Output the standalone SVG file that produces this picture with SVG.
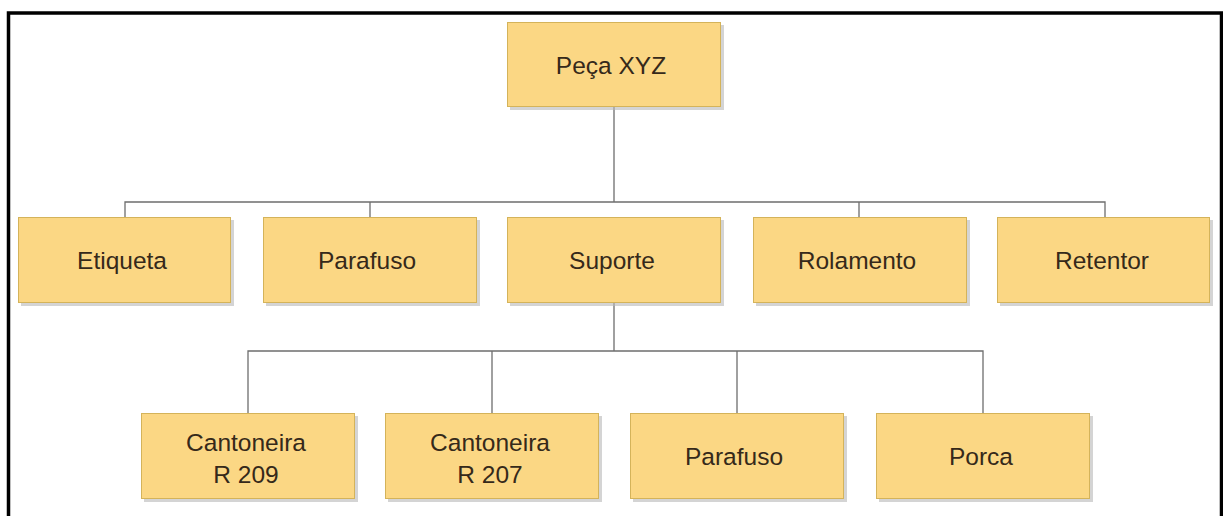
<svg xmlns="http://www.w3.org/2000/svg" width="1223" height="516" viewBox="0 0 1223 516">
<defs>
<style>
.box{fill:#fbd784;stroke:#d4b35a;stroke-width:1}
.sh{fill:#b8b8b8;opacity:0.6}
.t{font-family:"Liberation Sans",Arial,sans-serif;font-size:24.5px;fill:#35291a;text-anchor:middle}
.c{fill:none;stroke:#6e6e6e;stroke-width:1.3}
</style>
</defs>
<rect x="0" y="0" width="1223" height="516" fill="#ffffff"/>
<path d="M8.5 520 V13 H1221.5 V520" fill="none" stroke="#000" stroke-width="3.5"/>
<g id="connectors">
<path class="c" d="M614 107 V202 M125 217 V202 H1105 V217 M370 202 V217 M859 202 V217"/>
<path class="c" d="M614 303 V351 M248 413 V351 H983 V413 M492 351 V413 M737 351 V413"/>
</g>
<g id="n-peca"><rect class="sh" x="510" y="25" width="214" height="85"/><rect class="box" x="507.5" y="22.5" width="213" height="84"/><text class="t" x="611" y="74">Peça XYZ</text></g>
<g id="n-etiqueta"><rect class="sh" x="21" y="220" width="213" height="86"/><rect class="box" x="18.5" y="217.5" width="212" height="85"/><text class="t" x="122" y="269">Etiqueta</text></g>
<g id="n-parafuso1"><rect class="sh" x="266" y="220" width="214" height="86"/><rect class="box" x="263.5" y="217.5" width="213" height="85"/><text class="t" x="367" y="269">Parafuso</text></g>
<g id="n-suporte"><rect class="sh" x="510" y="220" width="214" height="86"/><rect class="box" x="507.5" y="217.5" width="213" height="85"/><text class="t" x="612" y="269">Suporte</text></g>
<g id="n-rolamento"><rect class="sh" x="756" y="220" width="214" height="86"/><rect class="box" x="753.5" y="217.5" width="213" height="85"/><text class="t" x="857" y="269">Rolamento</text></g>
<g id="n-retentor"><rect class="sh" x="1000" y="220" width="213" height="86"/><rect class="box" x="997.5" y="217.5" width="212" height="85"/><text class="t" x="1102" y="269">Retentor</text></g>
<g id="n-cant209"><rect class="sh" x="144" y="416" width="214" height="86"/><rect class="box" x="141.5" y="413.5" width="213" height="85"/><text class="t" x="246" y="451">Cantoneira</text><text class="t" x="246" y="483">R 209</text></g>
<g id="n-cant207"><rect class="sh" x="388" y="416" width="214" height="86"/><rect class="box" x="385.5" y="413.5" width="213" height="85"/><text class="t" x="490" y="451">Cantoneira</text><text class="t" x="490" y="483">R 207</text></g>
<g id="n-parafuso2"><rect class="sh" x="633" y="416" width="214" height="86"/><rect class="box" x="630.5" y="413.5" width="213" height="85"/><text class="t" x="734" y="465">Parafuso</text></g>
<g id="n-porca"><rect class="sh" x="879" y="416" width="214" height="86"/><rect class="box" x="876.5" y="413.5" width="213" height="85"/><text class="t" x="981" y="465">Porca</text></g>
</svg>
